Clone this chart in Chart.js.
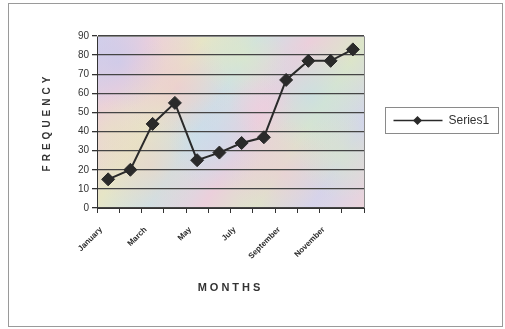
<!DOCTYPE html>
<html>
<head>
<meta charset="utf-8">
<script src="https://cdn.jsdelivr.net/npm/chart.js@4/dist/chart.umd.min.js"></script>
<style>
  html, body { margin: 0; padding: 0; background: #fff; }
  canvas { display: block; }
</style>
</head>
<body>
<canvas id="chart" width="505" height="329"></canvas>
<script>
// Monthly frequency data
const months = ['January', 'February', 'March', 'April', 'May', 'June',
                'July', 'August', 'September', 'October', 'November', 'December'];
const series1 = [15, 20, 44, 55, 25, 29, 34, 37, 67, 77, 77, 83];
const seriesName = 'Series1';
const yMin = 0;
const yMax = 90;
const yStep = 10;

const FONT = "'Liberation Sans', Arial, sans-serif";
const INK = '#333333';

// Pastel mottled wash behind the plot area
const plotWash = {
  id: 'plotWash',
  beforeDraw(chart) {
    const { ctx, chartArea: a } = chart;
    const w = a.right - a.left, h = a.bottom - a.top;
    ctx.save();
    const lin = ctx.createLinearGradient(a.left, a.top, a.right, a.bottom);
    const stops = ['#d3d0ea', '#edcfdb', '#e6e5c6', '#cde0e6', '#ebcfdb', '#dce5c9', '#d2d5ec', '#ecd3da'];
    stops.forEach((c, i) => lin.addColorStop(i / (stops.length - 1), c));
    ctx.fillStyle = lin;
    ctx.fillRect(a.left, a.top, w, h);
    // soft blotches
    const spots = [
      [0.08, 0.15, 0.18, 'rgba(195,200,238,0.6)'],
      [0.30, 0.30, 0.20, 'rgba(242,192,212,0.55)'],
      [0.55, 0.12, 0.16, 'rgba(225,235,188,0.55)'],
      [0.80, 0.35, 0.20, 'rgba(192,224,234,0.6)'],
      [0.20, 0.75, 0.20, 'rgba(238,210,196,0.55)'],
      [0.45, 0.62, 0.18, 'rgba(198,218,240,0.55)'],
      [0.70, 0.80, 0.20, 'rgba(242,198,218,0.55)'],
      [0.92, 0.70, 0.16, 'rgba(218,234,192,0.55)'],
      [0.62, 0.40, 0.12, 'rgba(240,206,224,0.5)'],
      [0.05, 0.55, 0.14, 'rgba(232,226,192,0.5)']
    ];
    spots.forEach(([fx, fy, fr, col]) => {
      const cx = a.left + fx * w, cy = a.top + fy * h, r = fr * w;
      const g = ctx.createRadialGradient(cx, cy, 0, cx, cy, r);
      g.addColorStop(0, col);
      g.addColorStop(1, col.replace(/[\d.]+\)$/, '0)'));
      ctx.fillStyle = g;
      ctx.fillRect(a.left, a.top, w, h);
    });
    ctx.restore();
  },
  beforeDatasetsDraw(chart) {
    const { ctx, chartArea: a } = chart;
    ctx.save();
    ctx.strokeStyle = '#8a8a8a';
    ctx.lineWidth = 1;
    ctx.beginPath();
    ctx.moveTo(a.left, a.top + 0.5);
    ctx.lineTo(a.right + 0.5, a.top + 0.5);
    ctx.lineTo(a.right + 0.5, a.bottom);
    ctx.stroke();
    ctx.restore();
  }
};

// Letter-spaced axis titles
const titleSpacing = { x: '3px', y: '4px' };
const spacedTitles = {
  id: 'spacedTitles',
  afterUpdate(chart) {
    Object.values(chart.scales).forEach(s => {
      if (s.__spaced) return;
      const orig = s.drawTitle.bind(s);
      s.drawTitle = function () {
        const ctx = this.ctx;
        const prev = ctx.letterSpacing;
        ctx.letterSpacing = titleSpacing[this.id] || '0px';
        orig.apply(null, arguments);
        ctx.letterSpacing = prev;
      };
      s.__spaced = true;
    });
  }
};

// Boxed legend and outer frame
const boxedLegend = {
  id: 'boxedLegend',
  afterDraw(chart) {
    const { ctx, chartArea: a } = chart;
    const ds = chart.data.datasets[0];
    ctx.save();
    // outer frame
    ctx.strokeStyle = '#9a9a9a';
    ctx.lineWidth = 1;
    ctx.strokeRect(8.5, 3.5, 494, 323);
    // legend box
    const bx = a.right + 21.5, by = 107.5, bw = 113, bh = 26;
    ctx.strokeStyle = '#8a8a8a';
    ctx.strokeRect(bx, by, bw, bh);
    const cy = by + bh / 2;
    ctx.strokeStyle = ds.borderColor;
    ctx.lineWidth = 1.6;
    ctx.beginPath();
    ctx.moveTo(bx + 8, cy);
    ctx.lineTo(bx + 57, cy);
    ctx.stroke();
    ctx.fillStyle = ds.pointBackgroundColor;
    ctx.beginPath();
    ctx.moveTo(bx + 32, cy - 4.5); ctx.lineTo(bx + 36.5, cy); ctx.lineTo(bx + 32, cy + 4.5); ctx.lineTo(bx + 27.5, cy);
    ctx.closePath(); ctx.fill();
    ctx.fillStyle = INK;
    ctx.font = `12px ${FONT}`;
    ctx.textBaseline = 'middle';
    ctx.textAlign = 'left';
    ctx.fillText(ds.label, bx + 63, cy + 0.5);
    ctx.restore();
  }
};

new Chart(document.getElementById('chart'), {
  type: 'line',
  data: {
    labels: months,
    datasets: [{
      label: seriesName,
      data: series1,
      borderColor: '#2a2a2a',
      borderWidth: 2,
      tension: 0,
      pointStyle: 'rectRot',
      pointRadius: 6.5,
      pointBackgroundColor: '#2a2a2a',
      pointBorderColor: '#2a2a2a',
      pointBorderWidth: 1
    }]
  },
  options: {
    responsive: false,
    animation: false,
    devicePixelRatio: 1,
    layout: { padding: { left: 41, top: 36, right: 141, bottom: 34 } },
    plugins: {
      legend: { display: false },
      tooltip: { enabled: false }
    },
    scales: {
      x: {
        type: 'category',
        offset: true,
        afterFit(scale) { scale.height = 87; },
        grid: {
          offset: true,
          drawOnChartArea: false,
          drawTicks: true,
          tickLength: 5,
          color: INK
        },
        border: { display: true, color: INK, width: 1 },
        ticks: {
          autoSkip: false,
          minRotation: 45,
          maxRotation: 45,
          padding: 12,
          labelOffset: -7,
          color: '#2a2a2a',
          font: { family: FONT, size: 8, weight: 'bold' },
          callback(value, index) { return index % 2 === 0 ? this.getLabelForValue(value) : ''; }
        },
        title: {
          display: true,
          text: 'MONTHS',
          color: INK,
          padding: 0,
          font: { family: FONT, size: 11, weight: 'bold' }
        }
      },
      y: {
        min: yMin,
        max: yMax,
        afterFit(scale) { scale.width = 56; },
        grid: {
          color: '#444444',
          lineWidth: 1.3,
          tickLength: 5,
          tickColor: INK
        },
        border: { display: true, color: INK, width: 1 },
        ticks: {
          stepSize: yStep,
          padding: 3,
          color: INK,
          font: { family: FONT, size: 10 }
        },
        title: {
          display: true,
          text: 'FREQUENCY',
          color: INK,
          padding: 0,
          font: { family: FONT, size: 10, weight: 'bold' }
        }
      }
    }
  },
  plugins: [plotWash, spacedTitles, boxedLegend]
});
</script>
</body>
</html>
